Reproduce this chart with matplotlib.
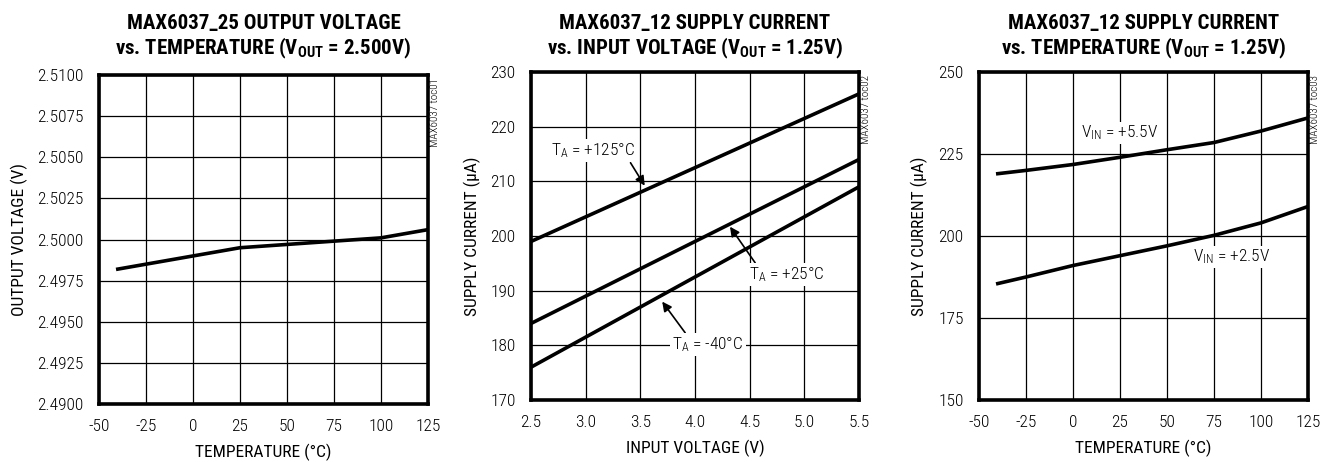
import matplotlib
matplotlib.use("Agg")
import matplotlib.pyplot as plt

plt.rcParams['font.family'] = ['Roboto Condensed', 'DejaVu Sans']
plt.rcParams['font.weight'] = 300
plt.rcParams['axes.unicode_minus'] = False
plt.rcParams['mathtext.fontset'] = 'custom'
plt.rcParams['mathtext.rm'] = 'Roboto Condensed:light'
plt.rcParams['mathtext.it'] = 'Roboto Condensed:light'
plt.rcParams['mathtext.bf'] = 'Roboto Condensed:bold'

# panel 1: output voltage vs temperature
temp1 = [-40, -25, 0, 25, 50, 75, 100, 125]
vout = [2.4982, 2.4985, 2.4990, 2.4995, 2.4997, 2.4999, 2.5001, 2.5006]

# panel 2: supply current vs input voltage
vin = [2.5, 5.5]
i_125 = [199, 226]
i_25 = [184, 214]
i_m40 = [176, 209]

# panel 3: supply current vs temperature
temp3 = [-40, -25, 0, 25, 50, 75, 100, 125]
i_vin55 = [219, 220, 221.8, 224, 226.3, 228.5, 232, 236]
i_vin25 = [185.5, 187.5, 191, 194, 197, 200.2, 204, 209]

W, H = 1329, 462
FS = 12.5
TFS = 15
fig = plt.figure(figsize=(W / 100, H / 100), dpi=100)


def make_axes(left, top, right, bottom):
    return fig.add_axes([left / W, 1 - bottom / H, (right - left) / W, (bottom - top) / H])


def style(ax, code):
    for s in ax.spines.values():
        s.set_linewidth(2.6)
    ax.grid(True, color='black', linewidth=0.9)
    ax.set_axisbelow(True)
    ax.tick_params(length=0, labelsize=FS, pad=11)
    ax.text(1.022, 0.99, code, transform=ax.transAxes, rotation=90,
            ha='center', va='top', fontsize=8)


def title(ax, l1, l2):
    pos = ax.get_position()
    xc = (pos.x0 + pos.x1) / 2
    fig.text(xc, 1 - 29 / H, l1, ha='center', va='baseline', fontsize=TFS, fontweight='bold')
    fig.text(xc, 1 - 54 / H, l2, ha='center', va='baseline', fontsize=TFS, fontweight='bold')


# ---- panel 1
ax1 = make_axes(99, 75, 428, 404)
ax1.plot(temp1, vout, color='black', linewidth=2.6)
ax1.set_xlim(-50, 125)
ax1.set_ylim(2.49, 2.51)
ax1.set_xticks([-50, -25, 0, 25, 50, 75, 100, 125])
ax1.set_yticks([2.49 + 0.0025 * k for k in range(9)])
ax1.set_yticklabels(['%.4f' % (2.49 + 0.0025 * k) for k in range(9)])
ax1.set_xlabel('TEMPERATURE (°C)', fontsize=FS, labelpad=7)
ax1.set_ylabel('OUTPUT VOLTAGE (V)', fontsize=FS, labelpad=7)
style(ax1, 'MAX6037 toc01')
title(ax1, 'MAX6037_25 OUTPUT VOLTAGE', r'vs. TEMPERATURE ($\mathbf{V_{OUT}}$ = 2.500V)')

# ---- panel 2
ax2 = make_axes(531, 72, 859, 400)
for ys in (i_125, i_25, i_m40):
    ax2.plot(vin, ys, color='black', linewidth=2.6)
ax2.set_xlim(2.5, 5.5)
ax2.set_ylim(170, 230)
ax2.set_xticks([2.5, 3.0, 3.5, 4.0, 4.5, 5.0, 5.5])
ax2.set_xticklabels(['2.5', '3.0', '3.5', '4.0', '4.5', '5.0', '5.5'])
ax2.set_yticks(range(170, 231, 10))
ax2.set_xlabel('INPUT VOLTAGE (V)', fontsize=FS, labelpad=7)
ax2.set_ylabel('SUPPLY CURRENT (µA)', fontsize=FS, labelpad=7)
style(ax2, 'MAX6037 toc02')
title(ax2, 'MAX6037_12 SUPPLY CURRENT', r'vs. INPUT VOLTAGE ($\mathbf{V_{OUT}}$ = 1.25V)')

arrow = dict(arrowstyle='-|>', color='black', linewidth=1.2, mutation_scale=14, shrinkA=0, shrinkB=0)
ax2.annotate('', xy=(3.54, 209.2), xytext=(3.41, 213.4), arrowprops=arrow)
ax2.annotate('', xy=(4.32, 201.7), xytext=(4.55, 195.1), arrowprops=arrow)
ax2.annotate('', xy=(3.70, 188.0), xytext=(3.91, 182.3), arrowprops=arrow)
box = dict(facecolor='white', edgecolor='none', pad=1.5)
ax2.text(3.07, 215.7, r'$\mathrm{T_A}$ = +125°C', ha='center', va='center', fontsize=FS, bbox=box)
ax2.text(4.84, 192.9, r'$\mathrm{T_A}$ = +25°C', ha='center', va='center', fontsize=FS, bbox=box)
ax2.text(4.12, 180.1, r'$\mathrm{T_A}$ = -40°C', ha='center', va='center', fontsize=FS, bbox=box)

# ---- panel 3
ax3 = make_axes(979, 72, 1308, 400)
ax3.plot(temp3, i_vin55, color='black', linewidth=2.6)
ax3.plot(temp3, i_vin25, color='black', linewidth=2.6)
ax3.set_xlim(-50, 125)
ax3.set_ylim(150, 250)
ax3.set_xticks([-50, -25, 0, 25, 50, 75, 100, 125])
ax3.set_yticks([150, 175, 200, 225, 250])
ax3.set_xlabel('TEMPERATURE (°C)', fontsize=FS, labelpad=7)
ax3.set_ylabel('SUPPLY CURRENT (µA)', fontsize=FS, labelpad=7)
style(ax3, 'MAX6037 toc03')
title(ax3, 'MAX6037_12 SUPPLY CURRENT', r'vs. TEMPERATURE ($\mathbf{V_{OUT}}$ = 1.25V)')
ax3.text(25, 231.4, r'$\mathrm{V_{IN}}$ = +5.5V', ha='center', va='center', fontsize=FS, bbox=box)
ax3.text(84.6, 193.6, r'$\mathrm{V_{IN}}$ = +2.5V', ha='center', va='center', fontsize=FS, bbox=box)

fig.savefig('out.png', dpi=100)
